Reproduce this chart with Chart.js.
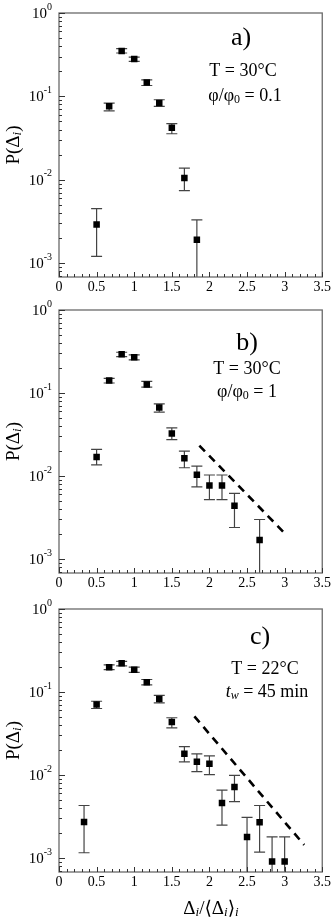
<!DOCTYPE html>
<html>
<head>
<meta charset="utf-8">
<script src="https://cdn.jsdelivr.net/npm/chart.js@4.4.1/dist/chart.umd.min.js"></script>
<style>
 html, body { margin: 0; padding: 0; background: #fff; }
 #wrap { position: relative; width: 333px; height: 920px; }
 .panel { position: absolute; left: 0; width: 333px; }
</style>
</head>
<body>
<div id="wrap">
 <div class="panel" style="top:0;height:300px"><canvas id="a"></canvas></div>
 <div class="panel" style="top:297px;height:300px"><canvas id="b"></canvas></div>
 <div class="panel" style="top:596px;height:324px"><canvas id="c"></canvas></div>
</div>
<script>
// panel a) T = 30°C, phi/phi0 = 0.1
const binsA = [0.5, 0.667, 0.833, 1.0, 1.167, 1.333, 1.5, 1.667, 1.833];
const probA = [0.0029, 0.076, 0.35, 0.28, 0.147, 0.083, 0.042, 0.0105, 0.0019];
const lowA = [0.0012, 0.067, 0.331, 0.263, 0.135, 0.076, 0.0356, 0.0074, 0.0004];
const highA = [0.0045, 0.083, 0.373, 0.296, 0.158, 0.091, 0.047, 0.0138, 0.0033];

// panel b) T = 30°C, phi/phi0 = 1
const binsB = [0.5, 0.667, 0.833, 1.0, 1.167, 1.333, 1.5, 1.667, 1.833, 2.0, 2.167, 2.333, 2.667];
const probB = [0.017, 0.142, 0.294, 0.27, 0.127, 0.067, 0.0325, 0.0164, 0.0104, 0.0077, 0.0077, 0.0044, 0.0017];
const lowB = [0.0136, 0.132, 0.275, 0.251, 0.118, 0.059, 0.0275, 0.0126, 0.0074, 0.0052, 0.0052, 0.0024, 0.0004];
const highB = [0.021, 0.15, 0.31, 0.288, 0.138, 0.074, 0.038, 0.020, 0.0132, 0.0103, 0.0103, 0.0062, 0.003];
const fitXB = [1.866, 3.0];
const fitYB = [0.0233, 0.00205];

// panel c) T = 22°C, tw = 45 min
const binsC = [0.333, 0.5, 0.667, 0.833, 1.0, 1.167, 1.333, 1.5, 1.667, 1.833, 2.0, 2.167, 2.333, 2.5, 2.667, 2.833, 3.0];
const probC = [0.00273, 0.0706, 0.199, 0.222, 0.185, 0.131, 0.0826, 0.0435, 0.018, 0.0145, 0.0137, 0.0046, 0.0072, 0.0018, 0.0027, 0.00091, 0.00091];
const lowC = [0.00116, 0.0633, 0.186, 0.206, 0.172, 0.122, 0.074, 0.037, 0.0144, 0.011, 0.0101, 0.0025, 0.0048, 0.0004, 0.00118, 0.0004, 0.0004];
const highC = [0.0043, 0.0774, 0.212, 0.234, 0.199, 0.1416, 0.0913, 0.049, 0.022, 0.018, 0.017, 0.0066, 0.0099, 0.0031, 0.0043, 0.0018, 0.0018];
const fitXC = [1.8, 3.26];
const fitYC = [0.051, 0.00144];

const yDecades = [1, 0.1, 0.01, 0.001];
const yExpLabels = ["0", "-1", "-2", "-3"];
const xLabelStep = 0.5;

const SERIF = "'Liberation Serif', 'DejaVu Serif', serif";

const fontOf = (r) => (r.it ? "italic " : "") + r.size + "px " + SERIF;

function drawRuns(ctx, runs, x, y, align) {
 let w = 0;
 runs.forEach((r) => { ctx.font = fontOf(r); w += ctx.measureText(r.t).width; });
 let cx = align === "center" ? x - w / 2 : align === "right" ? x - w : x;
 ctx.textAlign = "left";
 ctx.textBaseline = "middle";
 runs.forEach((r) => {
  ctx.font = fontOf(r);
  ctx.fillText(r.t, cx, y + (r.dy || 0));
  cx += ctx.measureText(r.t).width;
 });
}

const extras = {
 a: {
  lo: lowA, hi: highA,
  notes: [
   { x: 241, y: 38, runs: [{ t: "a)", size: 26 }] },
   { x: 243, y: 71, runs: [{ t: "T = 30°C", size: 18 }] },
   { x: 245, y: 96, runs: [{ t: "φ/φ", size: 18 }, { t: "0", size: 12, dy: 4 }, { t: " = 0.1", size: 18 }] },
  ],
 },
 b: {
  lo: lowB, hi: highB,
  notes: [
   { x: 247, y: 46, runs: [{ t: "b)", size: 26 }] },
   { x: 247, y: 72, runs: [{ t: "T = 30°C", size: 18 }] },
   { x: 247, y: 95, runs: [{ t: "φ/φ", size: 18 }, { t: "0", size: 12, dy: 4 }, { t: " = 1", size: 18 }] },
  ],
 },
 c: {
  lo: lowC, hi: highC, xTitle: true,
  notes: [
   { x: 260, y: 41, runs: [{ t: "c)", size: 26 }] },
   { x: 265, y: 73, runs: [{ t: "T = 22°C", size: 18 }] },
   { x: 267, y: 96, runs: [{ t: "t", size: 18, it: true }, { t: "w", size: 12, it: true, dy: 4 }, { t: " = 45 min", size: 18 }] },
  ],
 },
};

const panelPlugin = {
 id: "panelPlugin",
 beforeDatasetsDraw(chart) {
  const ex = extras[chart.canvas.id];
  const ctx = chart.ctx;
  const xs = chart.scales.x, ys = chart.scales.y, area = chart.chartArea;
  const pts = chart.data.datasets[0].data;
  ctx.save();
  ctx.beginPath();
  ctx.rect(area.left, area.top, area.right - area.left, area.bottom - area.top);
  ctx.clip();
  ctx.strokeStyle = "#444";
  ctx.lineWidth = 1.2;
  pts.forEach((p, i) => {
   const px = xs.getPixelForValue(p.x);
   const yl = ys.getPixelForValue(ex.lo[i]);
   const yh = ys.getPixelForValue(ex.hi[i]);
   ctx.beginPath();
   ctx.moveTo(px, yl); ctx.lineTo(px, yh);
   [yl, yh].forEach((yy) => {
    if (yy < area.bottom - 1) { ctx.moveTo(px - 5.5, yy); ctx.lineTo(px + 5.5, yy); }
   });
   ctx.stroke();
  });
  ctx.restore();
 },
 afterDraw(chart) {
  const ex = extras[chart.canvas.id];
  const ctx = chart.ctx;
  const xs = chart.scales.x, ys = chart.scales.y, a = chart.chartArea;
  ctx.save();
  // frame
  ctx.strokeStyle = "#6a6a6a";
  ctx.lineWidth = 1.3;
  ctx.strokeRect(a.left, a.top, a.right - a.left, a.bottom - a.top);
  // inward ticks
  ctx.strokeStyle = "#333";
  ctx.lineWidth = 1;
  ctx.beginPath();
  xs.ticks.forEach((t) => {
   const px = Math.round(xs.getPixelForValue(t.value)) + 0.5;
   const major = Math.abs(t.value / xLabelStep - Math.round(t.value / xLabelStep)) < 1e-6;
   ctx.moveTo(px, a.bottom); ctx.lineTo(px, a.bottom - (major ? 5 : 3));
  });
  for (let e = -4; e <= 0; e++) {
   for (let m = 1; m <= 9; m++) {
    const v = m * Math.pow(10, e);
    if (v < ys.min || v > ys.max) continue;
    const py = Math.round(ys.getPixelForValue(v)) + 0.5;
    ctx.moveTo(a.left, py); ctx.lineTo(a.left + (m === 1 ? 6 : 3), py);
   }
  }
  ctx.stroke();
  // y tick labels 10^n
  ctx.fillStyle = "#000";
  yDecades.forEach((v, i) => {
   const py = ys.getPixelForValue(v);
   ctx.font = "10px " + SERIF;
   const sw = ctx.measureText(yExpLabels[i]).width;
   ctx.textAlign = "right";
   ctx.textBaseline = "middle";
   ctx.fillText(yExpLabels[i], 52, py - 6);
   ctx.font = "15px " + SERIF;
   ctx.fillText("10", 52 - sw, py + 1);
  });
  // y title
  ctx.save();
  ctx.translate(14, (a.top + a.bottom) / 2);
  ctx.rotate(-Math.PI / 2);
  drawRuns(ctx, [{ t: "P(", size: 19 }, { t: "Δ", size: 19 }, { t: "i", size: 13, it: true, dy: 4 }, { t: ")", size: 19 }], 0, 0, "center");
  ctx.restore();
  // notes
  ex.notes.forEach((n) => drawRuns(ctx, n.runs, n.x, n.y, "center"));
  // x title
  if (ex.xTitle) {
   drawRuns(ctx, [
    { t: "Δ", size: 19 }, { t: "i", size: 13, it: true, dy: 4 },
    { t: "/⟨Δ", size: 19 }, { t: "i", size: 13, it: true, dy: 4 },
    { t: "⟩", size: 19 }, { t: "i", size: 13, it: true, dy: 4 },
   ], 211, 313, "center");
  }
  ctx.restore();
 },
};

function makePanel(id, bins, probs, fitX, fitY, xHeight) {
 const datasets = [{
  data: bins.map((x, i) => ({ x, y: probs[i] })),
  pointStyle: "rect",
  pointRadius: 4.6,
  backgroundColor: "#000",
  borderColor: "#000",
  borderWidth: 0,
  showLine: false,
 }];
 if (fitX) {
  datasets.push({
   data: fitX.map((x, i) => ({ x, y: fitY[i] })),
   showLine: true,
   pointRadius: 0,
   borderColor: "#000",
   borderWidth: 2.6,
   borderDash: [8, 6],
   fill: false,
  });
 }
 return new Chart(document.getElementById(id), {
  type: "scatter",
  data: { datasets },
  plugins: [panelPlugin],
  options: {
   responsive: true,
   maintainAspectRatio: false,
   animation: false,
   layout: { padding: { top: 13, right: 10, left: 0, bottom: 0 } },
   plugins: { legend: { display: false }, tooltip: { enabled: false } },
   scales: {
    x: {
     type: "linear",
     min: 0,
     max: 3.5,
     grid: { display: false, drawTicks: false },
     border: { display: false },
     ticks: {
      stepSize: 0.1,
      autoSkip: false,
      maxRotation: 0,
      minRotation: 0,
      padding: 2,
      color: "#000",
      font: { family: SERIF, size: 14 },
      callback: (v) => {
       const r = v / xLabelStep;
       return Math.abs(r - Math.round(r)) < 1e-6 ? String(Math.round(v * 10) / 10) : "";
      },
     },
     afterFit: (s) => { s.height = xHeight; },
    },
    y: {
     type: "logarithmic",
     min: 0.00068,
     max: 1,
     grid: { display: false, drawTicks: false },
     border: { display: false },
     ticks: { display: false },
     afterFit: (s) => { s.width = 59; },
    },
   },
  },
 });
}

makePanel("a", binsA, probA, null, null, 23);
makePanel("b", binsB, probB, fitXB, fitYB, 24);
makePanel("c", binsC, probC, fitXC, fitYC, 48);
</script>
</body>
</html>
